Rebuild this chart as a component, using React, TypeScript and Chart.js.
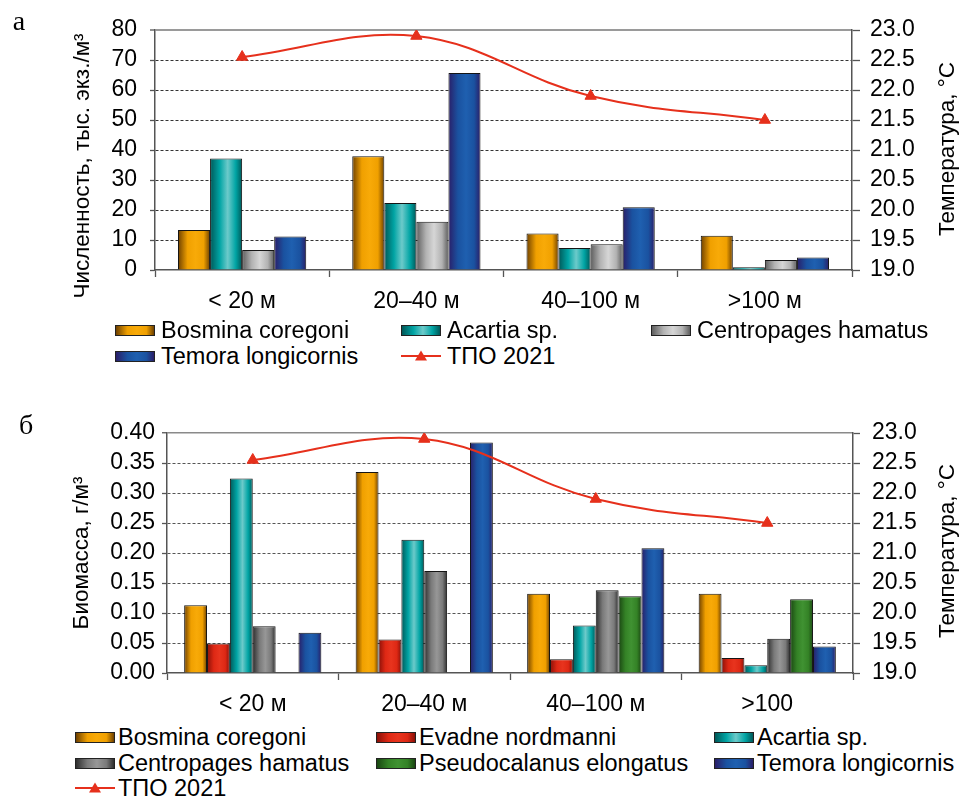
import React, { useEffect, useRef } from "react";
import { Chart, registerables } from "chart.js";

Chart.register(...registerables);

const FONT = '"Liberation Sans", Arial, Helvetica, sans-serif';
const RED = "#e6301c";

// ---------- Panel а : численность ----------
const zonesA = ["< 20 м", "20–40 м", "40–100 м", ">100 м"];
const bosminaAbund = [13.3, 37.9, 12.2, 11.4];
const acartiaAbund = [37.2, 22.3, 7.3, 0.9];
const centropagesAbund = [6.7, 16.1, 8.6, 3.3];
const temoraAbund = [11.2, 65.7, 20.9, 4.2];
const abundTicks = [0, 10, 20, 30, 40, 50, 60, 70, 80];

// ---------- Panel б : биомасса ----------
const zonesB = ["< 20 м", "20–40 м", "40–100 м", ">100"];
const bosminaBio = [0.113, 0.335, 0.132, 0.132];
const evadneBio = [0.049, 0.056, 0.023, 0.025];
const acartiaBio = [0.324, 0.222, 0.079, 0.013];
const centropagesBio = [0.078, 0.17, 0.138, 0.057];
const pseudocalanusBio = [0, 0, 0.128, 0.123];
const temoraBio = [0.067, 0.384, 0.208, 0.044];
const biomassTicks = [0, 0.05, 0.1, 0.15, 0.2, 0.25, 0.3, 0.35, 0.4];

// ---------- temperature (both panels) ----------
const sstLabel = "ТПО 2021";
const sst2021 = [22.55, 22.9, 21.9, 21.5];
const tempTicks = [19, 19.5, 20, 20.5, 21, 21.5, 22, 22.5, 23];

type Sp = { label: string; edge: string; body: string; hi: string };
const SP: Record<string, Sp> = {
  bosmina: { label: "Bosmina coregoni", edge: "#6e4000", body: "#f0a000", hi: "#f8aa08" },
  evadne: { label: "Evadne nordmanni", edge: "#8a1008", body: "#de2814", hi: "#e8341e" },
  acartia: { label: "Acartia sp.", edge: "#005858", body: "#00a4a4", hi: "#6ccaca" },
  centroLight: { label: "Centropages hamatus", edge: "#5e5e5e", body: "#b2b2b2", hi: "#d6d6d6" },
  centroDark: { label: "Centropages hamatus", edge: "#2e2e2e", body: "#7a7a7a", hi: "#979797" },
  pseudo: { label: "Pseudocalanus elongatus", edge: "#1a4612", body: "#348226", hi: "#409232" },
  temora: { label: "Temora longicornis", edge: "#2a1e68", body: "#1a52a0", hi: "#1f60b0" },
};

function barFill(sp: Sp) {
  return (ctx: any) => {
    const el = ctx.element;
    if (!el || typeof el.x !== "number" || !isFinite(el.width) || !el.width) return sp.body;
    const g = ctx.chart.ctx.createLinearGradient(el.x - el.width / 2, 0, el.x + el.width / 2, 0);
    g.addColorStop(0, sp.edge);
    g.addColorStop(0.3, sp.body);
    g.addColorStop(0.55, sp.hi);
    g.addColorStop(0.8, sp.body);
    g.addColorStop(1, sp.edge);
    return g;
  };
}

type TitleItem = { text: string; x: number; y: number; rot: number; font: string };

type PanelCfg = {
  labels: string[];
  bars: { sp: Sp; data: number[] }[];
  leftTicks: number[];
  leftDecimals: number;
  area: { left: number; right: number; top: number; bottom: number };
  width: number;
  height: number;
  catPct: number;
  gridColor: string;
  topLine: { color: string; width: number };
  leftTick: { len: number; pad: number };
  rightTick: { len: number; pad: number };
  titles: TitleItem[];
};

function buildPanel(canvas: HTMLCanvasElement, p: PanelCfg) {
  const leftMax = p.leftTicks[p.leftTicks.length - 1];
  const tickFont = { family: FONT, size: 23 };
  const titlesPlugin = {
    id: "panelTitles",
    afterDraw(chart: any) {
      const c = chart.ctx;
      p.titles.forEach((t) => {
        c.save();
        c.translate(t.x, t.y);
        c.rotate(t.rot);
        c.font = t.font;
        c.fillStyle = "#000";
        c.textAlign = "center";
        c.textBaseline = "middle";
        c.fillText(t.text, 0, 0);
        c.restore();
      });
    },
  };
  const chart = new Chart(canvas, {
    type: "bar",
    data: {
      labels: p.labels,
      datasets: [
        ...p.bars.map((b) => ({
          type: "bar" as const,
          label: b.sp.label,
          data: b.data,
          yAxisID: "y",
          backgroundColor: barFill(b.sp) as any,
          borderColor: "#151515",
          borderWidth: 1,
          barPercentage: 1,
          categoryPercentage: p.catPct,
          order: 1,
        })),
        {
          type: "line" as const,
          label: sstLabel,
          data: sst2021,
          yAxisID: "y1",
          borderColor: RED,
          backgroundColor: RED,
          borderWidth: 2,
          pointStyle: "triangle",
          pointRadius: 6.5,
          pointBorderWidth: 1,
          pointBackgroundColor: RED,
          pointBorderColor: RED,
          tension: 0.4,
          order: 0,
        } as any,
      ],
    },
    options: {
      animation: false,
      responsive: false,
      devicePixelRatio: 1,
      layout: { padding: { top: p.area.top, left: 0, right: 0, bottom: 0 } },
      plugins: { legend: { display: false }, tooltip: { enabled: false } },
      scales: {
        x: {
          grid: { offset: true, drawOnChartArea: false, tickLength: 7, tickColor: "#555", tickWidth: 1.3 },
          border: { color: "#555", width: 1.5 },
          ticks: { font: tickFont, color: "#000", padding: 11, maxRotation: 0, autoSkip: false },
          afterFit: (s: any) => {
            s.height = p.height - p.area.bottom;
          },
        },
        y: {
          position: "left",
          min: p.leftTicks[0],
          max: leftMax,
          afterBuildTicks: (s: any) => {
            s.ticks = p.leftTicks.map((v) => ({ value: v }));
          },
          afterFit: (s: any) => {
            s.width = p.area.left;
          },
          grid: {
            color: (c: any) => {
              const v = c.tick ? c.tick.value : -1;
              if (v === p.leftTicks[0]) return "rgba(0,0,0,0)";
              if (v === leftMax) return p.topLine.color;
              return p.gridColor;
            },
            lineWidth: (c: any) => (c.tick && c.tick.value === leftMax ? p.topLine.width : 1),
            tickColor: "#555",
            tickLength: p.leftTick.len,
            tickWidth: 1.3,
          },
          border: {
            color: "#555",
            width: 1.5,
            dash: (c: any) => (c.tick && c.tick.value !== leftMax ? [3, 2] : []),
          } as any,
          ticks: {
            font: tickFont,
            color: "#000",
            padding: p.leftTick.pad,
            autoSkip: false,
            callback: (v: any) => Number(v).toFixed(p.leftDecimals),
          },
        },
        y1: {
          position: "right",
          min: tempTicks[0],
          max: tempTicks[tempTicks.length - 1],
          afterBuildTicks: (s: any) => {
            s.ticks = tempTicks.map((v) => ({ value: v }));
          },
          afterFit: (s: any) => {
            s.width = p.width - p.area.right;
          },
          grid: {
            drawOnChartArea: false,
            tickColor: "#555",
            tickLength: p.rightTick.len,
            tickWidth: 1.3,
          },
          border: { color: "#555", width: 1.5 },
          ticks: {
            font: tickFont,
            color: "#000",
            padding: p.rightTick.pad,
            autoSkip: false,
            callback: (v: any) => Number(v).toFixed(1),
          },
        },
      },
    } as any,
    plugins: [titlesPlugin],
  });
  // second pass so the per-bar gradients know the bar geometry
  chart.update();
  return chart;
}

const TITLE_FONT = `22.5px ${FONT}`;
const LETTER_FONT = `28px "Liberation Serif", "Times New Roman", serif`;

const panelA: PanelCfg = {
  labels: zonesA,
  bars: [
    { sp: SP.bosmina, data: bosminaAbund },
    { sp: SP.acartia, data: acartiaAbund },
    { sp: SP.centroLight, data: centropagesAbund },
    { sp: SP.temora, data: temoraAbund },
  ],
  leftTicks: abundTicks,
  leftDecimals: 0,
  area: { left: 155, right: 852, top: 30, bottom: 270 },
  width: 962,
  height: 320,
  catPct: 0.736,
  gridColor: "#333",
  topLine: { color: "#9a9a9a", width: 2 },
  leftTick: { len: 5, pad: 13 },
  rightTick: { len: 8, pad: 10 },
  titles: [
    { text: "Численность, тыс. экз./м³", x: 83, y: 166, rot: -Math.PI / 2, font: TITLE_FONT },
    { text: "Температура, °C", x: 948, y: 149, rot: -Math.PI / 2, font: TITLE_FONT },
    { text: "а", x: 19, y: 23, rot: 0, font: LETTER_FONT },
  ],
};

const panelB: PanelCfg = {
  labels: zonesB,
  bars: [
    { sp: SP.bosmina, data: bosminaBio },
    { sp: SP.evadne, data: evadneBio },
    { sp: SP.acartia, data: acartiaBio },
    { sp: SP.centroDark, data: centropagesBio },
    { sp: SP.pseudo, data: pseudocalanusBio },
    { sp: SP.temora, data: temoraBio },
  ],
  leftTicks: biomassTicks,
  leftDecimals: 2,
  area: { left: 167, right: 853, top: 33, bottom: 273 },
  width: 962,
  height: 320,
  catPct: 0.8,
  gridColor: "#555",
  topLine: { color: "#8a8a8a", width: 1.5 },
  leftTick: { len: 5, pad: 7 },
  rightTick: { len: 7, pad: 12 },
  titles: [
    { text: "Биомасса, г/м³", x: 82, y: 153, rot: -Math.PI / 2, font: TITLE_FONT },
    { text: "Температура, °C", x: 948, y: 151, rot: -Math.PI / 2, font: TITLE_FONT },
    { text: "б", x: 26, y: 27, rot: 0, font: LETTER_FONT },
  ],
};

function Swatch({ sp }: { sp: Sp }) {
  return (
    <span
      style={{
        display: "inline-block",
        width: 40,
        height: 11,
        boxSizing: "border-box",
        border: "1px solid #222",
        background: `linear-gradient(to right, ${sp.edge} 0%, ${sp.body} 30%, ${sp.hi} 55%, ${sp.body} 80%, ${sp.edge} 100%)`,
        flex: "none",
      }}
    />
  );
}

function LineSwatch() {
  return (
    <svg width={40} height={14} style={{ flex: "none" }}>
      <line x1={0} y1={7} x2={40} y2={7} stroke={RED} strokeWidth={2} />
      <polygon points="20,1.5 26,11.5 14,11.5" fill={RED} />
    </svg>
  );
}

type LegItem = { sp: Sp | null; label: string; x: number; y: number };

function Legend({ items, gap }: { items: LegItem[]; gap: number }) {
  return (
    <>
      {items.map((it, i) => (
        <div
          key={i}
          style={{
            position: "absolute",
            left: it.x,
            top: it.y - 13,
            height: 26,
            display: "flex",
            alignItems: "center",
            whiteSpace: "nowrap",
            fontFamily: FONT,
            fontSize: 23.5,
            lineHeight: "26px",
            color: "#000",
          }}
        >
          {it.sp ? <Swatch sp={it.sp} /> : <LineSwatch />}
          <span style={{ marginLeft: gap }}>{it.label}</span>
        </div>
      ))}
    </>
  );
}

const legendA: LegItem[] = [
  { sp: SP.bosmina, label: SP.bosmina.label, x: 115, y: 330 },
  { sp: SP.acartia, label: SP.acartia.label, x: 401, y: 330 },
  { sp: SP.centroLight, label: SP.centroLight.label, x: 651, y: 330 },
  { sp: SP.temora, label: SP.temora.label, x: 115, y: 356 },
  { sp: null, label: sstLabel, x: 401, y: 356 },
];

const legendB: LegItem[] = [
  { sp: SP.bosmina, label: SP.bosmina.label, x: 75, y: 737 },
  { sp: SP.evadne, label: SP.evadne.label, x: 376, y: 737 },
  { sp: SP.acartia, label: SP.acartia.label, x: 714, y: 737 },
  { sp: SP.centroDark, label: SP.centroDark.label, x: 75, y: 763 },
  { sp: SP.pseudo, label: SP.pseudo.label, x: 376, y: 763 },
  { sp: SP.temora, label: SP.temora.label, x: 714, y: 763 },
  { sp: null, label: sstLabel, x: 75, y: 788 },
];

export default function App() {
  const topRef = useRef<HTMLCanvasElement>(null);
  const botRef = useRef<HTMLCanvasElement>(null);

  useEffect(() => {
    const charts: Chart[] = [];
    if (topRef.current) charts.push(buildPanel(topRef.current, panelA));
    if (botRef.current) charts.push(buildPanel(botRef.current, panelB));
    return () => charts.forEach((c) => c.destroy());
  }, []);

  return (
    <div
      style={{
        position: "absolute",
        left: 0,
        top: 0,
        width: 962,
        height: 797,
        background: "#fff",
        overflow: "hidden",
      }}
    >
      <canvas
        ref={topRef}
        width={962}
        height={320}
        style={{ position: "absolute", left: 0, top: 0, width: 962, height: 320 }}
      />
      <canvas
        ref={botRef}
        width={962}
        height={320}
        style={{ position: "absolute", left: 0, top: 400, width: 962, height: 320 }}
      />
      <Legend items={legendA} gap={6} />
      <Legend items={legendB} gap={3} />
    </div>
  );
}
